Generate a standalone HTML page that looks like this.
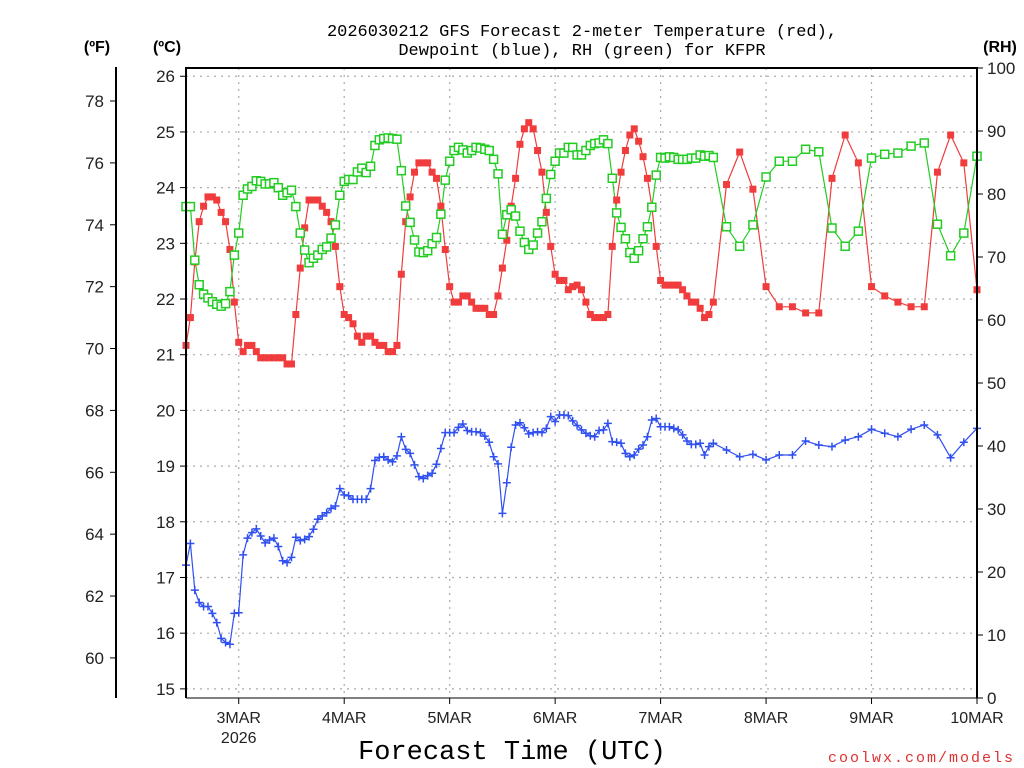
<!DOCTYPE html>
<html><head><meta charset="utf-8"><style>
html,body{margin:0;padding:0;background:#fff;}
svg{display:block;}
</style></head><body>
<svg id="chart" width="1024" height="768" xmlns="http://www.w3.org/2000/svg" font-family="'Liberation Sans', sans-serif">
<rect x="0" y="0" width="1024" height="768" fill="#fff"/>
<g id="grid"></g>
<g id="series"></g>
<g id="axes"></g>
<text x="582" y="36" text-anchor="middle" font-family="'Liberation Mono', monospace" font-size="17">2026030212 GFS Forecast 2-meter Temperature (red),</text>
<text x="582" y="55" text-anchor="middle" font-family="'Liberation Mono', monospace" font-size="17">Dewpoint (blue), RH (green) for KFPR</text>
<text x="97" y="52" text-anchor="middle" font-size="16" font-weight="bold">(ºF)</text>
<text x="167" y="52" text-anchor="middle" font-size="16" font-weight="bold">(ºC)</text>
<text x="1000" y="52" text-anchor="middle" font-size="16" font-weight="bold">(RH)</text>
<text x="512" y="759" text-anchor="middle" font-family="'Liberation Mono', monospace" font-size="27">Forecast Time (UTC)</text>
<text x="1015" y="762" text-anchor="end" font-family="'Liberation Mono', monospace" font-size="15" letter-spacing="2" fill="#e03030">coolwx.com/models</text>
</svg>
<script>
const hours=[0,1,2,3,4,5,6,7,8,9,10,11,12,13,14,15,16,17,18,19,20,21,22,23,24,25,26,27,28,29,30,31,32,33,34,35,36,37,38,39,40,41,42,43,44,45,46,47,48,49,50,51,52,53,54,55,56,57,58,59,60,61,62,63,64,65,66,67,68,69,70,71,72,73,74,75,76,77,78,79,80,81,82,83,84,85,86,87,88,89,90,91,92,93,94,95,96,97,98,99,100,101,102,103,104,105,106,107,108,109,110,111,112,113,114,115,116,117,118,119,120,123,126,129,132,135,138,141,144,147,150,153,156,159,162,165,168,171,174,177,180];
const tempF=[70.1,71.0,72.8,74.1,74.6,74.9,74.9,74.8,74.4,74.1,73.2,71.5,70.2,69.9,70.1,70.1,69.9,69.7,69.7,69.7,69.7,69.7,69.7,69.5,69.5,71.1,72.6,73.9,74.8,74.8,74.8,74.6,74.4,74.1,73.3,72.0,71.1,71.0,70.8,70.4,70.2,70.4,70.4,70.2,70.1,70.1,69.9,69.9,70.1,72.4,74.1,74.9,75.7,76.0,76.0,76.0,75.7,75.5,74.6,73.2,72.0,71.5,71.5,71.7,71.7,71.5,71.3,71.3,71.3,71.1,71.1,71.7,72.6,73.5,74.6,75.5,76.6,77.1,77.3,77.1,76.4,75.7,74.4,73.3,72.4,72.2,72.2,71.9,72.0,72.05,71.9,71.5,71.1,71.0,71.0,71.0,71.1,73.3,74.8,75.7,76.4,76.9,77.1,76.7,76.2,75.5,74.6,73.3,72.2,72.05,72.05,72.05,72.05,71.9,71.7,71.5,71.5,71.3,71.0,71.1,71.5,75.3,76.35,75.15,72.0,71.35,71.35,71.15,71.15,75.5,76.9,76.0,72.0,71.7,71.5,71.35,71.35,75.7,76.9,76.0,71.9];
const dewF=[63.00,63.70,62.19,61.79,61.66,61.66,61.44,61.14,60.63,60.50,60.44,61.44,61.46,63.33,63.87,64.05,64.17,63.94,63.72,63.81,63.87,63.60,63.14,63.08,63.25,63.90,63.79,63.83,63.92,64.16,64.48,64.59,64.69,64.83,64.91,65.47,65.27,65.24,65.13,65.13,65.13,65.13,65.47,66.38,66.48,66.50,66.40,66.34,66.53,67.15,66.74,66.61,66.24,65.86,65.80,65.89,65.97,66.26,66.77,67.28,67.28,67.28,67.45,67.56,67.35,67.31,67.31,67.28,67.17,66.97,66.50,66.27,64.67,65.66,66.81,67.53,67.60,67.44,67.24,67.28,67.31,67.28,67.42,67.80,67.64,67.85,67.85,67.83,67.66,67.51,67.37,67.26,67.18,67.15,67.35,67.37,67.58,66.99,66.97,66.94,66.61,66.50,66.56,66.75,66.88,67.15,67.69,67.74,67.47,67.47,67.47,67.42,67.37,67.21,67.01,66.90,66.90,66.94,66.56,66.83,66.94,66.72,66.50,66.58,66.40,66.56,66.56,67.01,66.88,66.83,67.04,67.15,67.39,67.26,67.15,67.39,67.53,67.21,66.47,66.97,67.42];
const rh=[78.0,78.0,69.5,65.6,64.1,63.5,62.9,62.5,62.2,62.6,64.5,70.3,73.8,79.8,80.8,81.2,82.1,82.0,81.6,81.6,81.8,81.0,79.8,80.2,80.6,78.0,73.8,71.1,69.1,69.8,70.3,71.2,71.6,73.0,75.1,79.8,82.0,82.3,82.3,83.5,84.1,83.4,84.4,87.7,88.6,88.8,88.9,88.8,88.7,83.7,78.1,75.5,72.7,70.8,70.7,71.0,72.1,73.1,76.8,82.2,85.2,86.9,87.4,87.0,86.5,86.9,87.4,87.3,87.1,86.9,85.5,83.2,73.6,76.7,77.5,76.5,74.1,72.3,71.2,71.9,73.8,75.6,79.3,83.1,85.2,86.5,86.5,87.4,87.4,86.2,86.2,86.9,87.7,88.0,88.1,88.6,88.0,82.5,77.0,74.7,72.9,70.7,69.8,71.0,72.9,74.8,77.9,83.0,85.8,85.7,85.9,85.8,85.5,85.5,85.5,85.7,85.7,86.2,86.0,86.1,85.8,74.8,71.7,75.1,82.7,85.2,85.2,87.1,86.7,74.6,71.7,74.1,85.7,86.3,86.5,87.6,88.1,75.2,70.2,73.8,86.0];
const dayLabels=["3MAR","4MAR","5MAR","6MAR","7MAR","8MAR","9MAR","10MAR"];
const dayHours=[12,36,60,84,108,132,156,180];
const fTicks=[60,62,64,66,68,70,72,74,76,78];
const cTicks=[15,16,17,18,19,20,21,22,23,24,25,26];
const rhTicks=[0,10,20,30,40,50,60,70,80,90,100];

const NS="http://www.w3.org/2000/svg";
const X0=186,X1=977,YT=68,YB=698;
function xH(h){return X0+h*(X1-X0)/180;}
function yF(f){return 101+(78-f)*30.94;}
function yC(c){return yF(c*1.8+32);}
function yRH(r){return YB-r*(YB-YT)/100;}
function mk(tag,attrs,parent){const e=document.createElementNS(NS,tag);for(const k in attrs)e.setAttribute(k,attrs[k]);parent.appendChild(e);return e;}
const grid=document.getElementById('grid'),series=document.getElementById('series'),axes=document.getElementById('axes');

cTicks.forEach(c=>{const l=mk('line',{x1:X0,x2:X1,y1:yC(c),y2:yC(c),stroke:'#aaa','stroke-width':1.2,'stroke-dasharray':'2 5'},grid);

});
dayHours.forEach(h=>{const l=mk('line',{x1:xH(h),x2:xH(h),y1:YT,y2:YB,stroke:'#aaa','stroke-width':1.2,'stroke-dasharray':'2 5'},grid);

});

function drawLine(vals,yfn,color,name){
  const pts=hours.map((h,i)=>xH(h).toFixed(1)+','+yfn(vals[i]).toFixed(1)).join(' ');
  const p=mk('polyline',{points:pts,fill:'none',stroke:color,'stroke-width':1.2},series);
  
  
}
drawLine(tempF,yF,'#f03c3c','temperature-line');
drawLine(rh,yRH,'#22cc22','rh-line');
drawLine(dewF,yF,'#3050f0','dewpoint-line');
hours.forEach((h,i)=>{const x=xH(h),y=yF(tempF[i]);
  const r=mk('rect',{x:x-3.5,y:y-3.5,width:7,height:7,fill:'#f03c3c'},series);
  
  });
hours.forEach((h,i)=>{const x=xH(h),y=yRH(rh[i]);
  const r=mk('rect',{x:x-4,y:y-4,width:8,height:8,fill:'#fff',stroke:'#22cc22','stroke-width':1.5},series);
  
  });
hours.forEach((h,i)=>{const x=xH(h),y=yF(dewF[i]);
  const p=mk('path',{d:`M${x-4} ${y}H${x+4}M${x} ${y-4}V${y+4}`,stroke:'#3050f0','stroke-width':1.5,fill:'none'},series);
  
  });

// frame
const fr=mk('path',{d:`M${X0} ${YB}V${YT}H${X1}V${YB}`,fill:'none',stroke:'#000','stroke-width':2},axes);


const bl=mk('line',{x1:X0,x2:X1,y1:YB,y2:YB,stroke:'#000','stroke-width':1},axes);


const fa=mk('line',{x1:116,x2:116,y1:67,y2:698,stroke:'#000','stroke-width':2},axes);


fTicks.forEach(f=>{const y=yF(f);mk('line',{x1:110,x2:116,y1:y,y2:y,stroke:'#000','stroke-width':1},axes);
  const t=mk('text',{x:104,y:y+6,'text-anchor':'end','font-size':17,fill:'#222'},axes);t.textContent=f;
  
  });
cTicks.forEach(c=>{const y=yC(c);mk('line',{x1:180,x2:186,y1:y,y2:y,stroke:'#000','stroke-width':1},axes);
  const t=mk('text',{x:175,y:y+6,'text-anchor':'end','font-size':17,fill:'#222'},axes);t.textContent=c;
  
  });
rhTicks.forEach(r=>{const y=yRH(r);mk('line',{x1:977,x2:983,y1:y,y2:y,stroke:'#000','stroke-width':1},axes);
  const t=mk('text',{x:987,y:y+6,'text-anchor':'start','font-size':17,fill:'#222'},axes);t.textContent=r;
  
  });
dayHours.forEach((h,i)=>{const x=xH(h);mk('line',{x1:x,x2:x,y1:YB,y2:YB+6,stroke:'#000','stroke-width':1},axes);
  const t=mk('text',{x:x,y:723,'text-anchor':'middle','font-size':16,fill:'#222'},axes);t.textContent=dayLabels[i];
  
  });
const yr=mk('text',{x:xH(12),y:743,'text-anchor':'middle','font-size':16,fill:'#222'},axes);yr.textContent='2026';


</script>
</body></html>
